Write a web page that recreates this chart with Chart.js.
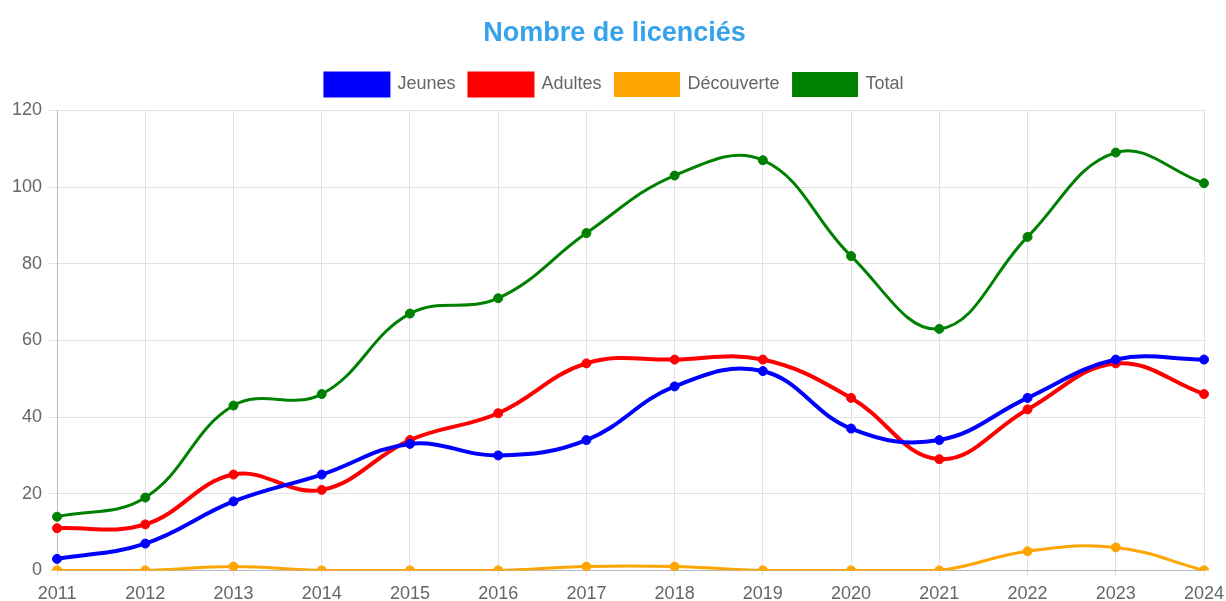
<!DOCTYPE html>
<html lang="fr">
<head>
    <meta charset="UTF-8">
    <title>Nombre de licenciés</title>
    <script src="https://cdn.jsdelivr.net/npm/chart.js"></script>
    <style>
        body { margin: 0; padding: 0; background: #fff; }
        .chart-box { width: 1226px; height: 601px; }
    </style>
</head>
<body>
    <div class="chart-box"><canvas id="licencies"></canvas></div>
    <script>
        const years = ['2011', '2012', '2013', '2014', '2015', '2016', '2017', '2018', '2019', '2020', '2021', '2022', '2023', '2024'];
        const jeunes = [3, 7, 18, 25, 33, 30, 34, 48, 52, 37, 34, 45, 55, 55];
        const adultes = [11, 12, 25, 21, 34, 41, 54, 55, 55, 45, 29, 42, 54, 46];
        const decouverte = [0, 0, 1, 0, 0, 0, 1, 1, 0, 0, 0, 5, 6, 0];
        const total = [14, 19, 43, 46, 67, 71, 88, 103, 107, 82, 63, 87, 109, 101];

        Chart.defaults.font.family = '"Liberation Sans", Arial, sans-serif';
        Chart.defaults.font.size = 18;
        Chart.defaults.color = '#666';

        // a bit more room between the legend and the plot
        const legendGap = {
            id: 'legendGap',
            beforeInit(chart) {
                const fit = chart.legend.fit;
                chart.legend.fit = function () {
                    fit.bind(chart.legend)();
                    this.height += 5;
                };
            }
        };

        function serie(label, data, color, width) {
            return {
                label: label,
                data: data,
                borderColor: color,
                backgroundColor: color,
                borderWidth: width,
                pointRadius: 4.5,
                pointBorderWidth: 1,
                pointHoverRadius: 6,
                tension: 0.4,
                fill: false
            };
        }

        new Chart(document.getElementById('licencies'), {
            type: 'line',
            data: {
                labels: years,
                datasets: [
                    serie('Jeunes', jeunes, 'blue', 4),
                    serie('Adultes', adultes, 'red', 4),
                    serie('Découverte', decouverte, 'orange', 3),
                    serie('Total', total, 'green', 3)
                ]
            },
            plugins: [legendGap],
            options: {
                responsive: true,
                maintainAspectRatio: false,
                animation: false,
                layout: { padding: { left: 5, right: 2, top: 0, bottom: -11 } },
                plugins: {
                    title: {
                        display: true,
                        text: 'Nombre de licenciés',
                        color: '#36A2EB',
                        font: { size: 27, weight: 'bold' },
                        padding: { top: 17, bottom: 10 }
                    },
                    legend: {
                        position: 'top',
                        labels: { boxWidth: 63, boxHeight: 22, padding: 14 }
                    }
                },
                scales: {
                    x: {
                        grid: { color: '#e2e2e2', tickLength: 6 },
                        border: { color: '#bbb' },
                        ticks: { padding: 7 },
                        afterFit: (scale) => { scale.paddingRight = 22; }
                    },
                    y: {
                        min: 0,
                        max: 120,
                        ticks: { stepSize: 20, padding: 7 },
                        grid: { color: '#e2e2e2', tickLength: 8 },
                        border: { color: '#bbb' }
                    }
                }
            }
        });
    </script>
</body>
</html>
